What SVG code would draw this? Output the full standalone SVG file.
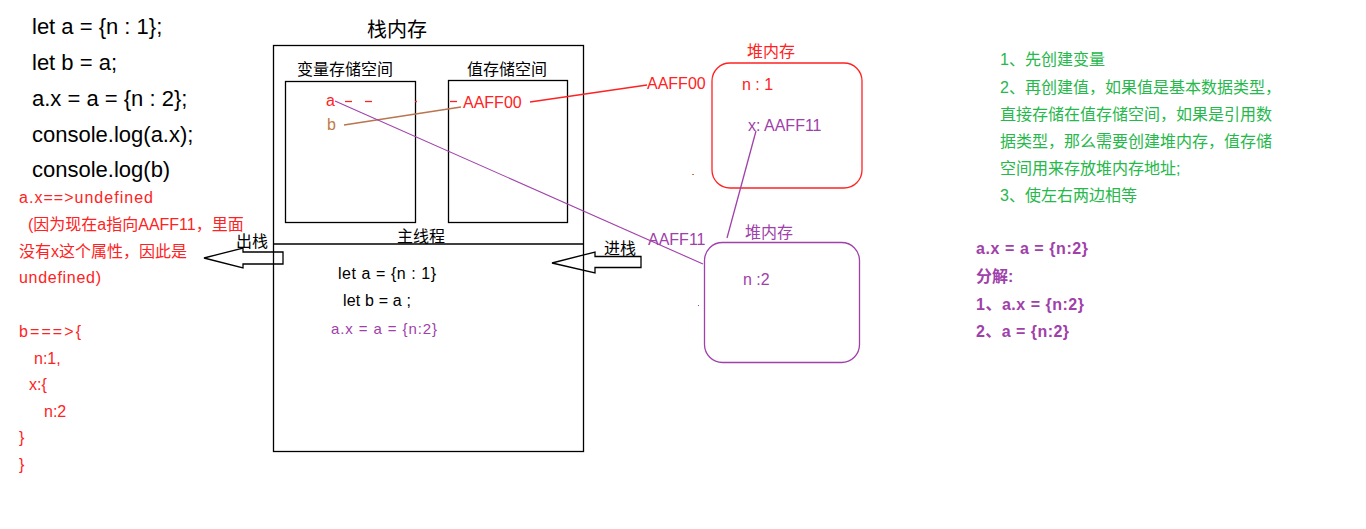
<svg xmlns="http://www.w3.org/2000/svg" width="1366" height="529" viewBox="0 0 1366 529">
<style>
text{font-family:"Liberation Sans","Noto Sans CJK SC",sans-serif;font-size:16px}
.code{font-size:22px;fill:#000}
.red{fill:#f22}
.blk{fill:#000}
.pur{fill:#a040aa}
.brn{fill:#c07a45}
.grn{fill:#25b84a}
.bold{font-weight:bold}
.box{fill:none;stroke:#000;stroke-width:1.3}
.arrow{fill:none;stroke:#000;stroke-width:1.3}
</style>
<rect width="1366" height="529" fill="#fff"/>

<g id="code">
<text class="code" x="32" y="34">let a = {n : 1};</text>
<text class="code" x="32" y="70">let b = a;</text>
<text class="code" x="32" y="106">a.x = a = {n : 2};</text>
<text class="code" x="32" y="142">console.log(a.x);</text>
<text class="code" x="32" y="177">console.log(b)</text>
</g>

<g id="result">
<text class="red" x="19" y="203" textLength="134" lengthAdjust="spacing">a.x==&gt;undefined</text>
<text class="red" x="28" y="230">(因为现在a指向AAFF11，里面</text>
<text class="red" x="19" y="257">没有x这个属性，因此是</text>
<text class="red" x="19" y="283" textLength="82" lengthAdjust="spacing">undefined)</text>
<text class="red" x="19" y="337" textLength="62" lengthAdjust="spacing">b===&gt;{</text>
<text class="red" x="34" y="364">n:1,</text>
<text class="red" x="29" y="390">x:{</text>
<text class="red" x="44" y="417">n:2</text>
<text class="red" x="19" y="443">}</text>
<text class="red" x="19" y="470">}</text>
</g>

<g id="stack">
<text class="blk" x="397" y="37" text-anchor="middle" style="font-size:20px">栈内存</text>
<rect class="box" x="273.5" y="45.5" width="310" height="406"/>
<g id="var-space">
<text class="blk" x="345" y="75" text-anchor="middle">变量存储空间</text>
<rect class="box" x="285.5" y="81.5" width="130" height="141"/>
<text class="red" x="326" y="106">a</text>
<text class="brn" x="327" y="130">b</text>
</g>
<g id="val-space">
<text class="blk" x="507" y="75" text-anchor="middle">值存储空间</text>
<rect class="box" x="448.5" y="80.5" width="119" height="142"/>
<text class="red" x="463" y="108">AAFF00</text>
</g>
<line x1="273" y1="244" x2="583" y2="244" stroke="#000" stroke-width="1.3"/>
<text class="blk" x="421" y="242" text-anchor="middle">主线程</text>
<g id="main-thread">
<text class="blk" x="338" y="279" textLength="98" lengthAdjust="spacing">let a = {n : 1}</text>
<text class="blk" x="343" y="306" textLength="68" lengthAdjust="spacing">let b = a ;</text>
<text class="pur" x="331" y="334" style="font-size:15px" textLength="106" lengthAdjust="spacing">a.x = a = {n:2}</text>
</g>
</g>

<g id="pop-arrow">
<polygon class="arrow" points="204,258 243,248 243,252 283,252 283,264 243,264 243,268"/>
<text class="blk" x="236" y="247">出栈</text>
</g>
<g id="push-arrow">
<polygon class="arrow" points="552,263 595,252 595,256.5 641,256.5 641,267.5 595,267.5 595,273"/>
<text class="blk" x="604" y="254">进栈</text>
</g>

<g id="heap1">
<text class="red" x="747" y="57">堆内存</text>
<rect x="712" y="63" width="150" height="125" rx="18" fill="none" stroke="#f22" stroke-width="1.3"/>
<text class="red" x="742" y="90">n : 1</text>
<text class="pur" x="748" y="131">x: AAFF11</text>
</g>

<g id="heap2">
<text class="pur" x="745" y="238">堆内存</text>
<rect x="704.5" y="242.5" width="155" height="120" rx="18" fill="none" stroke="#a040aa" stroke-width="1.3"/>
<text class="pur" x="743" y="285">n :2</text>
</g>

<g id="connectors">
<g stroke="#f22" stroke-width="1.3">
<line x1="345" y1="101.5" x2="352" y2="101.5"/>
<line x1="365" y1="101.5" x2="372" y2="101.5"/>
<line x1="415" y1="101.5" x2="417" y2="101.5"/>
<line x1="450" y1="101.5" x2="457" y2="101.5"/>
<line x1="530" y1="102" x2="647" y2="85"/>
</g>
<line x1="344" y1="125" x2="461" y2="107" stroke="#b87550" stroke-width="1.3"/>
<line x1="335" y1="101" x2="703" y2="264" stroke="#a040aa" stroke-width="1.1"/>
<line x1="756" y1="131" x2="727" y2="238" stroke="#a040aa" stroke-width="1.3"/>
<line x1="692" y1="174.5" x2="694" y2="174.5" stroke="#c07a45" stroke-width="1"/>
<line x1="698" y1="305" x2="699" y2="306" stroke="#a040aa" stroke-width="1"/>
</g>
<text class="red" x="647" y="89">AAFF00</text>
<text class="pur" x="648" y="245">AAFF11</text>

<g id="notes">
<text class="grn" x="1000" y="65">1、先创建变量</text>
<text class="grn" x="1000" y="93">2、再创建值，如果值是基本数据类型，</text>
<text class="grn" x="1000" y="120">直接存储在值存储空间，如果是引用数</text>
<text class="grn" x="1000" y="147">据类型，那么需要创建堆内存，值存储</text>
<text class="grn" x="1000" y="174">空间用来存放堆内存地址;</text>
<text class="grn" x="1000" y="201">3、使左右两边相等</text>
</g>

<g id="breakdown">
<text class="pur bold" x="976" y="254" textLength="112" lengthAdjust="spacing">a.x = a = {n:2}</text>
<text class="pur bold" x="976" y="282">分解:</text>
<text class="pur bold" x="976" y="310" textLength="108" lengthAdjust="spacing">1、a.x = {n:2}</text>
<text class="pur bold" x="976" y="337" textLength="93" lengthAdjust="spacing">2、a = {n:2}</text>
</g>
</svg>
